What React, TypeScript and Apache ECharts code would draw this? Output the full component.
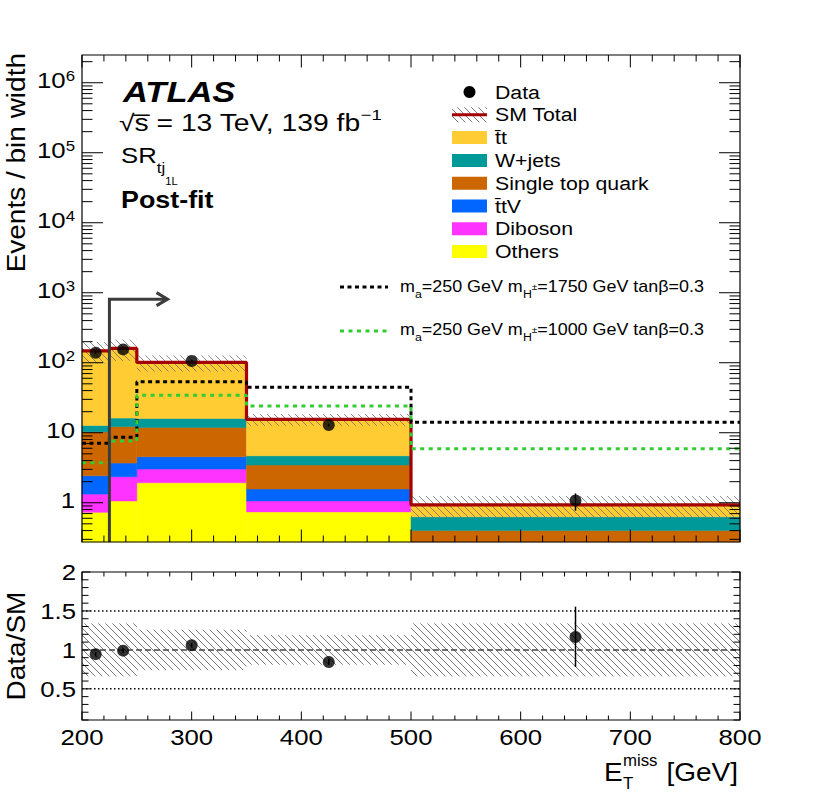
import React, { useEffect, useRef } from "react";
import * as echarts from "echarts";

// ---------------- data ----------------
const binEdges = [200, 225, 250, 350, 500, 800];
const others = [0.73, 1.06, 1.93, 0.74, 0.05];
const diboson = [0.6, 1.29, 1.1, 0.32, 0.03];
const ttV = [1.1, 1.34, 1.51, 0.51, 0.04];
const singleTop = [7.87, 8.51, 7.36, 1.89, 0.28];
const wJets = [2.4, 4.0, 4.1, 1.23, 0.23];
const ttbar = [135.3, 143.8, 85.0, 10.81, 0.3];
const smRelUnc = [0.34, 0.34, 0.26, 0.19, 0.34];

const dataX = [212.5, 237.5, 300, 425, 650];
const dataY = [139, 155, 106, 12.9, 1.08];
const dataErrLo = [5, 6, 3, 0.6, 0.31];
const dataErrHi = [5, 6, 3, 0.6, 0.28];

const ratioY = [0.945, 0.99, 1.06, 0.845, 1.165];
const ratioErrLo = [0.03, 0.03, 0.03, 0.04, 0.385];
const ratioErrHi = [0.03, 0.03, 0.03, 0.04, 0.39];

const sig1750 = [7.1, 8.6, 53.5, 44.6, 14.1];
const sig1000 = [3.73, 7.6, 34.2, 24.1, 5.9];

const mainYTickValues = [1, 10, 100, 1e3, 1e4, 1e5, 1e6];
const mainYTickBase = ["1", "10", "10", "10", "10", "10", "10"];
const mainYTickExp = ["", "", "2", "3", "4", "5", "6"];
const ratioYTickValues = [0.5, 1, 1.5, 2];
const ratioYTickLabels = ["0.5", "1", "1.5", "2"];
const xTickValues = [200, 300, 400, 500, 600, 700, 800];
const xTickLabels = ["200", "300", "400", "500", "600", "700", "800"];

const cutValue = 225;
const arrowEnd = 278;
const arrowLevel = 810;

// ---------------- style / layout ----------------
const FONT = '"Liberation Sans", Arial, Helvetica, sans-serif';
const SX = 1.12;
const X_MIN = 200;
const X_MAX = 800;
const Y_MIN = 0.275;
const Y_MAX = 2.49e6;
const R_MIN = 0.1;
const R_MAX = 2.0;

const C_TT = "#FFCC33";
const C_W = "#009999";
const C_ST = "#CC6600";
const C_TTV = "#0066FF";
const C_DIB = "#FF33FF";
const C_OTH = "#FFFF00";
const C_RED = "#A40000";
const C_GREEN = "#33CC33";
const HATCH = { stroke: "#6a6a6a", lineWidth: 0.9 };
const HATCH_MAIN = { stroke: "#707070", lineWidth: 0.8 };

const components = [
  { name: "Others", values: others, color: C_OTH },
  { name: "Diboson", values: diboson, color: C_DIB },
  { name: "t\u0304tV", values: ttV, color: C_TTV },
  { name: "Single top quark", values: singleTop, color: C_ST },
  { name: "W+jets", values: wJets, color: C_W },
  { name: "t\u0304t", values: ttbar, color: C_TT },
];

function hatchLines(x0: number, y0: number, x1: number, y1: number, sp: number, style: any) {
  const out: any[] = [];
  const cMin = x0 - y1;
  const cMax = x1 - y0;
  for (let k = Math.ceil(cMin / sp); k * sp <= cMax; k++) {
    const c = k * sp;
    const xa = Math.max(x0, y0 + c);
    const xb = Math.min(x1, y1 + c);
    if (xb > xa) {
      out.push({ type: "line", shape: { x1: xa, y1: xa - c, x2: xb, y2: xb - c }, style });
    }
  }
  return out;
}

function stepData(vals: number[]) {
  return binEdges.map((e, i) => [e, vals[Math.min(i, vals.length - 1)]]);
}

function buildOption() {
  const nBins = binEdges.length - 1;
  const cumBase: number[][] = [];
  const running = new Array(nBins).fill(0);
  components.forEach((c) => {
    cumBase.push(running.slice());
    c.values.forEach((v, i) => (running[i] += v));
  });
  const total = running.slice();

  const stackSeries = components.map((c, ci) => ({
    type: "custom",
    name: c.name,
    xAxisIndex: 0,
    yAxisIndex: 0,
    z: 2,
    encode: { x: [0, 1], y: [2, 3] },
    data: c.values.map((v, i) => [binEdges[i], binEdges[i + 1], ci === 0 ? 1e-3 : cumBase[ci][i], cumBase[ci][i] + v]),
    renderItem: (params: any, api: any) => {
      const lo = Math.max(api.value(2), Y_MIN);
      const hi = api.value(3);
      if (hi <= Y_MIN) return null;
      const a = api.coord([api.value(0), hi]);
      const b = api.coord([api.value(1), lo]);
      return {
        type: "rect",
        shape: { x: a[0], y: a[1], width: b[0] - a[0], height: b[1] - a[1] },
        style: { fill: c.color, stroke: c.color, lineWidth: 0.5 },
      };
    },
  }));

  const hatchMain = {
    type: "custom",
    xAxisIndex: 0,
    yAxisIndex: 0,
    z: 3,
    encode: { x: [0, 1], y: [2, 3] },
    data: total.map((t, i) => [binEdges[i], binEdges[i + 1], t * (1 - smRelUnc[i]), t * (1 + smRelUnc[i])]),
    renderItem: (params: any, api: any) => {
      const cs = params.coordSys;
      const a = api.coord([api.value(0), api.value(3)]);
      const b = api.coord([api.value(1), Math.max(api.value(2), Y_MIN)]);
      const y0 = Math.max(a[1], cs.y);
      const y1 = Math.min(b[1], cs.y + cs.height);
      return { type: "group", children: hatchLines(a[0], y0, b[0], y1, 7, HATCH_MAIN) };
    },
  };

  const lineSeries = (vals: number[], color: string, width: number, type: any, z: number) => ({
    type: "line",
    xAxisIndex: 0,
    yAxisIndex: 0,
    step: "end",
    showSymbol: false,
    symbol: "none",
    z,
    data: stepData(vals),
    lineStyle: { color, width, type, cap: "butt" },
  });

  const errSeries = (xs: number[], ys: number[], lo: number[], hi: number[], axis: number) => ({
    type: "custom",
    xAxisIndex: axis,
    yAxisIndex: axis,
    z: 6,
    encode: { x: 0, y: 1 },
    data: xs.map((x, i) => [x, ys[i], ys[i] - lo[i], ys[i] + hi[i]]),
    renderItem: (params: any, api: any) => {
      const a = api.coord([api.value(0), api.value(2)]);
      const b = api.coord([api.value(0), api.value(3)]);
      return { type: "line", shape: { x1: a[0], y1: a[1], x2: b[0], y2: b[1] }, style: { stroke: "#000", lineWidth: 1.5 } };
    },
  });

  const scatter = (xs: number[], ys: number[], axis: number) => ({
    type: "scatter",
    xAxisIndex: axis,
    yAxisIndex: axis,
    z: 7,
    symbol: "circle",
    symbolSize: 12,
    itemStyle: { color: "#000" },
    data: xs.map((x, i) => [x, ys[i]]),
  });

  const arrowSeries = {
    type: "custom",
    xAxisIndex: 0,
    yAxisIndex: 0,
    z: 8,
    encode: { x: [0, 2], y: 1 },
    data: [[cutValue, arrowLevel, arrowEnd]],
    renderItem: (params: any, api: any) => {
      const p0 = api.coord([api.value(0), Y_MIN]);
      const p1 = api.coord([api.value(0), api.value(1)]);
      const p2 = api.coord([api.value(2), api.value(1)]);
      const st = { stroke: "#3c3c3c", lineWidth: 3, fill: "none" };
      return {
        type: "group",
        children: [
          { type: "polyline", shape: { points: [p0, p1, [p2[0] - 1, p2[1]]] }, style: st },
          { type: "polyline", shape: { points: [[p2[0] - 11, p2[1] - 6.5], [p2[0], p2[1]], [p2[0] - 11, p2[1] + 6.5]] }, style: st },
        ],
      };
    },
  };

  // main frame + ticks + labels
  const mainMinor: number[] = [];
  for (let k = -1; k <= 6; k++) {
    for (let m = 1; m <= 9; m++) {
      const v = m * Math.pow(10, k);
      if (v >= Y_MIN && v <= Y_MAX) mainMinor.push(v);
    }
  }
  const xMinor: number[] = [];
  for (let v = X_MIN; v <= X_MAX; v += 20) xMinor.push(v);

  const frameMain = {
    type: "custom",
    xAxisIndex: 0,
    yAxisIndex: 0,
    z: 20,
    encode: { x: 0, y: 1 },
    data: [[X_MIN, 1]],
    renderItem: (params: any, api: any) => {
      const ch: any[] = [];
      const tl = api.coord([X_MIN, Y_MAX]);
      const br = api.coord([X_MAX, Y_MIN]);
      const ls = { stroke: "#000", lineWidth: 1 };
      ch.push({ type: "rect", shape: { x: tl[0], y: tl[1], width: br[0] - tl[0], height: br[1] - tl[1] }, style: { fill: "none", stroke: "#000", lineWidth: 1.2 } });
      mainMinor.forEach((v) => {
        const major = mainYTickValues.indexOf(v) >= 0;
        const len = major ? 21 : 10.5;
        const p = api.coord([X_MIN, v]);
        const q = api.coord([X_MAX, v]);
        ch.push({ type: "line", shape: { x1: p[0], y1: p[1], x2: p[0] + len, y2: p[1] }, style: ls });
        ch.push({ type: "line", shape: { x1: q[0] - len, y1: q[1], x2: q[0], y2: q[1] }, style: ls });
      });
      xMinor.forEach((v) => {
        const major = xTickValues.indexOf(v) >= 0;
        const len = major ? 12.5 : 6.5;
        const p = api.coord([v, Y_MIN]);
        const q = api.coord([v, Y_MAX]);
        ch.push({ type: "line", shape: { x1: p[0], y1: p[1], x2: p[0], y2: p[1] - len }, style: ls });
        ch.push({ type: "line", shape: { x1: q[0], y1: q[1], x2: q[0], y2: q[1] + len }, style: ls });
      });
      mainYTickValues.forEach((v, i) => {
        const p = api.coord([X_MIN, v]);
        const exp = mainYTickExp[i];
        ch.push({
          type: "text",
          x: p[0] - 7,
          y: p[1],
          scaleX: SX,
          style: {
            text: exp ? `{b|${mainYTickBase[i]}}{e|${exp}}` : `{b|${mainYTickBase[i]}}`,
            align: "right",
            verticalAlign: "middle",
            rich: {
              b: { fontSize: 23, fontFamily: FONT, lineHeight: 28, fill: "#000", verticalAlign: "top" },
              e: { fontSize: 15, fontFamily: FONT, lineHeight: 12, fill: "#000", verticalAlign: "top" },
            },
          },
        });
      });
      return { type: "group", children: ch };
    },
  };

  // ratio panel
  const ratioMinor: number[] = [];
  for (let i = 1; i <= 20; i++) ratioMinor.push(i / 10);

  const hatchRatio = {
    type: "custom",
    xAxisIndex: 1,
    yAxisIndex: 1,
    z: 3,
    encode: { x: [0, 1], y: [2, 3] },
    data: smRelUnc.map((r, i) => [binEdges[i], binEdges[i + 1], 1 - r, 1 + r]),
    renderItem: (params: any, api: any) => {
      const a = api.coord([api.value(0), api.value(3)]);
      const b = api.coord([api.value(1), api.value(2)]);
      return { type: "group", children: hatchLines(a[0], a[1], b[0], b[1], 7, HATCH) };
    },
  };

  const refLine = (v: number, color: string, width: number, type: any) => ({
    type: "line",
    xAxisIndex: 1,
    yAxisIndex: 1,
    z: 4,
    showSymbol: false,
    symbol: "none",
    data: [[X_MIN, v], [X_MAX, v]],
    lineStyle: { color, width, type },
  });

  const frameRatio = {
    type: "custom",
    xAxisIndex: 1,
    yAxisIndex: 1,
    z: 20,
    encode: { x: 0, y: 1 },
    data: [[X_MIN, 1]],
    renderItem: (params: any, api: any) => {
      const ch: any[] = [];
      const tl = api.coord([X_MIN, R_MAX]);
      const br = api.coord([X_MAX, R_MIN]);
      const ls = { stroke: "#000", lineWidth: 1 };
      ch.push({ type: "rect", shape: { x: tl[0], y: tl[1], width: br[0] - tl[0], height: br[1] - tl[1] }, style: { fill: "none", stroke: "#000", lineWidth: 1.2 } });
      ratioMinor.forEach((v) => {
        const major = ratioYTickValues.some((t) => Math.abs(t - v) < 1e-6);
        const len = major ? 8.5 : 6.5;
        const p = api.coord([X_MIN, v]);
        const q = api.coord([X_MAX, v]);
        ch.push({ type: "line", shape: { x1: p[0], y1: p[1], x2: p[0] + len, y2: p[1] }, style: ls });
        ch.push({ type: "line", shape: { x1: q[0] - len, y1: q[1], x2: q[0], y2: q[1] }, style: ls });
      });
      xMinor.forEach((v) => {
        const major = xTickValues.indexOf(v) >= 0;
        const len = major ? 8.5 : 4.5;
        const p = api.coord([v, R_MIN]);
        const q = api.coord([v, R_MAX]);
        ch.push({ type: "line", shape: { x1: p[0], y1: p[1], x2: p[0], y2: p[1] - len }, style: ls });
        ch.push({ type: "line", shape: { x1: q[0], y1: q[1], x2: q[0], y2: q[1] + len }, style: ls });
      });
      ratioYTickValues.forEach((v, i) => {
        const p = api.coord([X_MIN, v]);
        ch.push({
          type: "text",
          x: p[0] - 6,
          y: p[1],
          scaleX: SX,
          style: { text: ratioYTickLabels[i], align: "right", verticalAlign: "middle", fontSize: 23, fontFamily: FONT, fill: "#000" },
        });
      });
      xTickValues.forEach((v, i) => {
        const p = api.coord([v, R_MIN]);
        ch.push({
          type: "text",
          x: p[0],
          y: p[1] + 17,
          scaleX: SX,
          style: { text: xTickLabels[i], align: "center", verticalAlign: "middle", fontSize: 23, fontFamily: FONT, fill: "#000" },
        });
      });
      return { type: "group", children: ch };
    },
  };

  // ---------------- graphic (legend + annotations) ----------------
  const g: any[] = [];
  const txt = (text: string, x: number, y: number, size: number, extra: any = {}, el: any = {}) => ({
    type: "text",
    x,
    y,
    scaleX: SX,
    z: 50,
    ...el,
    style: { text, fontSize: size, fontFamily: FONT, fill: "#000", align: "left", verticalAlign: "middle", ...extra },
  });

  g.push(txt("ATLAS", 123, 92, 30, { fontWeight: "bold", fontStyle: "italic" }, { scaleX: 1.15 }));
  g.push({
    type: "text",
    x: 119,
    y: 106.5,
    scaleX: 1.23,
    z: 50,
    style: {
      text: "{n|\u221As\u0305 = 13 TeV, 139 fb}{p|\u22121}",
      align: "left",
      verticalAlign: "top",
      rich: {
        n: { fontSize: 23, fontFamily: FONT, verticalAlign: "top", padding: [5, 0, 0, 0], fill: "#000" },
        p: { fontSize: 15, fontFamily: FONT, verticalAlign: "top", padding: [1, 0, 0, 0], fill: "#000" },
      },
    },
  });
  g.push({
    type: "text",
    x: 121,
    y: 143.5,
    scaleX: SX,
    z: 50,
    style: {
      text: "{n|SR}{s|tj}{ss|1L}",
      align: "left",
      verticalAlign: "top",
      rich: {
        n: { fontSize: 23, fontFamily: FONT, verticalAlign: "top", padding: [0, 0, 0, 0], fill: "#000" },
        s: { fontSize: 15, fontFamily: FONT, verticalAlign: "top", padding: [17, 0, 0, 0], fill: "#000" },
        ss: { fontSize: 10, fontFamily: FONT, verticalAlign: "top", padding: [32.5, 0, 0, 0], fill: "#000" },
      },
    },
  });
  g.push(txt("Post-fit", 121, 200, 24, { fontWeight: "bold" }));

  // legend
  const LX = 452;
  const LW = 35;
  const LH = 13;
  const LT = 495;
  const rowY = (i: number) => 92 + 22.8 * i;
  g.push({ type: "circle", shape: { cx: LX + LW / 2, cy: rowY(0), r: 6 }, style: { fill: "#000" }, z: 50 });
  g.push(txt("Data", LT, rowY(0), 19));
  hatchLines(LX, rowY(1) - 7.5, LX + LW, rowY(1) + 7.5, 7, HATCH).forEach((l) => g.push({ ...l, z: 50 }));
  g.push({ type: "line", shape: { x1: LX, y1: rowY(1), x2: LX + LW, y2: rowY(1) }, style: { stroke: C_RED, lineWidth: 3 }, z: 51 });
  g.push(txt("SM Total", LT, rowY(1), 19));
  components
    .slice()
    .reverse()
    .forEach((c, i) => {
      const y = rowY(i + 2);
      g.push({ type: "rect", shape: { x: LX, y: y - LH / 2, width: LW, height: LH }, style: { fill: c.color }, z: 50 });
      g.push(txt(c.name, LT, y, 19));
    });

  // signal legend
  const sigRich = {
    n: { fontSize: 16, fontFamily: FONT, verticalAlign: "top", padding: [0, 0, 0, 0], fill: "#000" },
    s: { fontSize: 11, fontFamily: FONT, verticalAlign: "top", padding: [9, 0, 0, 0], fill: "#000" },
    p: { fontSize: 9, fontFamily: FONT, verticalAlign: "top", padding: [3, 0, 0, 0], fill: "#000" },
  };
  const sigRows = [
    { y: 287, ty: 287, color: "#000", dash: [4, 3.5], text: "{n|m}{s|a}{n|=250 GeV m}{s|H}{p|\u00B1}{n|=1750 GeV tan\u03B2=0.3}" },
    { y: 331, ty: 330, color: C_GREEN, dash: [4, 4.5], text: "{n|m}{s|a}{n|=250 GeV m}{s|H}{p|\u00B1}{n|=1000 GeV tan\u03B2=0.3}" },
  ];
  sigRows.forEach((r) => {
    g.push({ type: "line", shape: { x1: 340, y1: r.y, x2: 388, y2: r.y }, style: { stroke: r.color, lineWidth: 3, lineDash: r.dash }, z: 50 });
    g.push({
      type: "text",
      x: 400,
      y: r.ty - 8,
      scaleX: SX,
      z: 50,
      style: { text: r.text, align: "left", verticalAlign: "top", rich: sigRich },
    });
  });

  // axis titles
  g.push(txt("Events / bin width", 17, 53, 25, { align: "right" }, { rotation: Math.PI / 2 }));
  g.push(txt("Data/SM", 17, 646, 25, { align: "center" }, { rotation: Math.PI / 2 }));
  g.push(txt("E", 604, 773, 25));
  g.push(txt("miss", 623, 760, 16, {}, { scaleX: 1.05 }));
  g.push(txt("T", 623, 783, 16, {}, { scaleX: 1.05 }));
  g.push(txt("[GeV]", 738, 773, 25, { align: "right" }));

  return {
    animation: false,
    backgroundColor: "#ffffff",
    grid: [
      { left: 82, top: 55, width: 658, height: 487 },
      { left: 82, top: 572, width: 658, height: 148 },
    ],
    xAxis: [
      { type: "value", gridIndex: 0, min: X_MIN, max: X_MAX, show: false },
      { type: "value", gridIndex: 1, min: X_MIN, max: X_MAX, show: false },
    ],
    yAxis: [
      { type: "log", logBase: 10, gridIndex: 0, min: Y_MIN, max: Y_MAX, show: false },
      { type: "value", gridIndex: 1, min: R_MIN, max: R_MAX, show: false },
    ],
    graphic: g,
    series: [
      ...stackSeries,
      hatchMain,
      lineSeries(total, C_RED, 3.2, "solid", 5),
      lineSeries(sig1750, "#000", 3, [4, 3.5], 5),
      lineSeries(sig1000, C_GREEN, 3, [4, 4.5], 5),
      errSeries(dataX, dataY, dataErrLo, dataErrHi, 0),
      scatter(dataX, dataY, 0),
      arrowSeries,
      frameMain,
      hatchRatio,
      refLine(1, "#444", 1.5, [6, 3]),
      refLine(0.5, "#000", 1.5, [1.5, 2.5]),
      refLine(1.5, "#000", 1.5, [1.5, 2.5]),
      errSeries(dataX, ratioY, ratioErrLo, ratioErrHi, 1),
      scatter(dataX, ratioY, 1),
      frameRatio,
    ],
  };
}

export default function App() {
  const ref = useRef<HTMLDivElement>(null);
  useEffect(() => {
    if (!ref.current) return;
    const chart = echarts.init(ref.current, null, { renderer: "svg" });
    chart.setOption(buildOption() as any);
    return () => chart.dispose();
  }, []);
  return (
    <div
      ref={ref}
      style={{ position: "absolute", left: 0, top: 0, width: 830, height: 797, background: "#fff" }}
    />
  );
}
